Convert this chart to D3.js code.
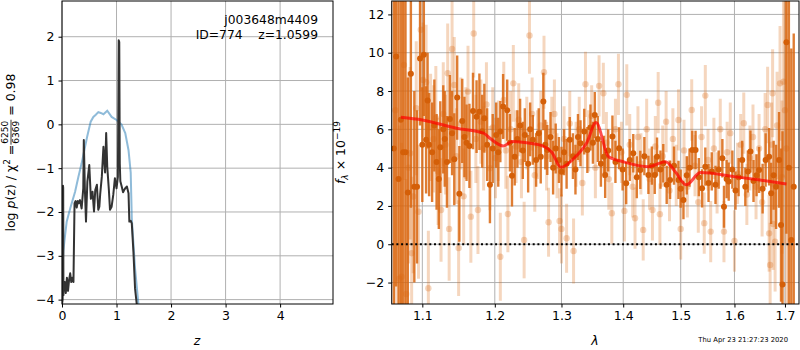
<!DOCTYPE html>
<html>
<head>
<meta charset="utf-8">
<script src="https://cdn.jsdelivr.net/npm/d3@7"></script>
<style>
body { margin: 0; background: #fff; }
text { font-family: "DejaVu Sans", sans-serif; }
</style>
</head>
<body>
<div id="chart"></div>
<script>
// p(z) panel
var pzZ = [0, 0.012, 0.018, 0.022, 0.026, 0.032, 0.05, 0.07, 0.09, 0.11, 0.13, 0.15, 0.17, 0.19, 0.21, 0.23, 0.25, 0.27, 0.29, 0.31, 0.33, 0.36, 0.39, 0.40, 0.42, 0.44, 0.465, 0.50, 0.53, 0.56, 0.587, 0.61, 0.64, 0.665, 0.685, 0.70, 0.73, 0.76, 0.79, 0.81, 0.83, 0.86, 0.88, 0.91, 0.94, 0.97, 1.0, 1.025, 1.04, 1.05, 1.06, 1.07, 1.095, 1.12, 1.14, 1.165, 1.19, 1.22, 1.235, 1.26, 1.28, 1.31, 1.34, 1.37, 1.4]
var pzLog = [-4.1, -4.0, -1.4, -1.45, -3.9, -3.7, -3.6, -3.85, -3.5, -3.8, -3.55, -3.4, -3.6, -3.5, -3.6, -1.8, -1.75, -1.9, -1.75, -1.8, -1.73, -1.92, -1.46, -0.36, -1.5, -2.22, -1.31, -0.93, -1.7, -1.54, -1.99, -1.5, -1.38, -1.95, -1.88, -1.6, -1.2, -0.51, -1.1, -0.2, -0.97, -1.5, -1.95, -1.88, -1.61, -1.23, -1.46, -1.2, 1.92, 1.88, -0.9, -1.3, -1.42, -1.55, -1.5, -1.45, -1.42, -1.57, -2.22, -2.2, -2.26, -2.91, -3.75, -4.09, -4.3]
var chiZ = [0, 0.01, 0.024, 0.05, 0.086, 0.15, 0.24, 0.30, 0.36, 0.46, 0.526, 0.575, 0.62, 0.666, 0.71, 0.76, 0.83, 0.91, 1.0, 1.09, 1.16, 1.22, 1.26, 1.28, 1.34, 1.4, 1.43]
var chiLog = [-3.9, -3.3, -2.9, -2.6, -2.22, -1.92, -1.54, -1.2, -0.89, -0.29, 0.06, 0.17, 0.22, 0.28, 0.26, 0.23, 0.31, 0.17, 0.1, 0.0, -0.2, -0.59, -1.1, -2.15, -3.29, -4.08, -4.5]
var zTicks = [0, 1, 2, 3, 4]
var logTicks = [-4, -3, -2, -1, 0, 1, 2]

// spectrum panel
var darkWave = [1.063, 1.066, 1.069, 1.072, 1.075, 1.078, 1.081, 1.085, 1.0895, 1.093, 1.097, 1.100, 1.102, 1.105, 1.107, 1.109, 1.113, 1.116, 1.119, 1.122, 1.124, 1.128, 1.130, 1.133, 1.137, 1.140, 1.143, 1.147, 1.150, 1.154, 1.157, 1.160, 1.164, 1.169, 1.174, 1.178, 1.182, 1.185, 1.189, 1.193, 1.197, 1.202, 1.205, 1.208, 1.212, 1.218, 1.222, 1.225, 1.229, 1.233, 1.237, 1.241, 1.244, 1.249, 1.252, 1.256, 1.261, 1.265, 1.268, 1.272, 1.275, 1.278, 1.283, 1.287, 1.291, 1.296, 1.300, 1.304, 1.308, 1.313, 1.318, 1.322, 1.326, 1.330, 1.336, 1.341, 1.346, 1.350, 1.353, 1.358, 1.363, 1.368, 1.370, 1.375, 1.382, 1.387, 1.393, 1.399, 1.405, 1.411, 1.417, 1.423, 1.429, 1.436, 1.443, 1.449, 1.454, 1.458, 1.464, 1.469, 1.475, 1.481, 1.488, 1.496, 1.500, 1.505, 1.511, 1.516, 1.521, 1.527, 1.533, 1.539, 1.545, 1.551, 1.557, 1.564, 1.570, 1.577, 1.580, 1.585, 1.589, 1.596, 1.602, 1.608, 1.615, 1.621, 1.626, 1.631, 1.637, 1.643, 1.648, 1.655, 1.661, 1.668, 1.672, 1.677, 1.682, 1.688, 1.692, 1.695, 1.703, 1.708, 1.713, 1.718]
var darkFlux = [5.0, 9.8, 3.4, 6.5, 4.8, 4.8, 2.7, 8.9, 3.0, 3.0, 9.7, 5.2, 9.9, 5.45, 7.5, 5.2, 4.8, 6.2, 4.3, 3.4, 5.07, 6.0, 5.5, 4.3, 6.54, 5.8, 4.44, 7.66, 2.63, 6.44, 5.6, 5.3, 5.13, 6.96, 6.66, 6.92, 5.9, 6.58, 5.2, 3.1, 5.0, 5.7, 4.8, 5.88, 7.19, 7.0, 5.3, 3.57, 4.57, 5.5, 6.2, 4.9, 5.7, 4.2, 6.0, 5.45, 4.4, 5.8, 4.57, 7.45, 5.2, 4.92, 5.6, 4.0, 5.0, 4.4, 3.79, 4.8, 4.2, 5.45, 4.6, 3.9, 5.6, 5.27, 5.88, 4.92, 6.1, 5.3, 6.75, 5.5, 4.2, 4.57, 3.62, 4.9, 5.62, 4.3, 5.01, 3.9, 3.19, 4.4, 4.75, 3.5, 3.88, 4.6, 3.62, 4.1, 3.62, 4.57, 3.9, 4.23, 3.1, 3.36, 4.1, 3.36, 2.9, 2.31, 3.6, 4.0, 4.92, 4.92, 3.5, 2.92, 4.05, 3.2, 3.8, 3.1, 3.9, 4.49, 1.96, 3.4, 3.27, 3.9, 2.8, 3.5, 4.4, 3.0, 3.8, 4.84, 3.3, 3.6, 3.88, 2.9, 4.4, 4.57, 2.66, 3.6, 3.0, 4.4, 1.0, -2.1, 10.55, 4.0, 0.22, 3.0]
var darkErr = [15, 12, 10, 11, 9, 8, 6, 7, 5, 4, 3.5, 3, 3.2, 2.8, 2.5, 2.7, 2.6, 2.4, 2.5, 2.6, 2.4, 2.3, 2.5, 2.4, 2.3, 2.2, 2.4, 2.2, 2.5, 2.2, 2.1, 2.0, 2.2, 2.0, 1.9, 2.0, 1.9, 1.8, 1.9, 2.0, 1.8, 1.7, 1.8, 1.6, 1.7, 1.6, 1.5, 1.6, 1.5, 1.5, 1.4, 1.5, 1.4, 1.5, 1.4, 1.3, 1.4, 1.3, 1.4, 1.5, 1.3, 1.3, 1.3, 1.4, 1.3, 1.2, 1.3, 1.2, 1.3, 1.2, 1.2, 1.3, 1.2, 1.2, 1.2, 1.2, 1.2, 1.1, 1.2, 1.2, 1.2, 1.1, 1.2, 1.1, 1.1, 1.1, 1.1, 1.1, 1.1, 1.1, 1.0, 1.1, 1.0, 1.0, 1.0, 1.0, 1.0, 1.0, 1.0, 1.0, 1.0, 1.0, 1.0, 1.0, 1.0, 1.0, 1.0, 1.0, 1.0, 1.0, 1.0, 1.0, 1.0, 1.0, 1.0, 1.0, 1.0, 1.0, 1.1, 1.0, 1.0, 1.0, 1.0, 1.0, 1.0, 1.0, 1.1, 1.1, 1.1, 1.1, 1.2, 1.3, 1.4, 1.5, 1.6, 1.8, 2.2, 2.5, 4, 8, 10, 9, 10, 8]

var lightWave = [1.065, 1.070, 1.073, 1.076, 1.079, 1.082, 1.084, 1.086, 1.088, 1.092, 1.095, 1.098, 1.101, 1.105, 1.108, 1.111, 1.115, 1.118, 1.121, 1.125, 1.128, 1.131, 1.134, 1.136, 1.140, 1.143, 1.146, 1.149, 1.152, 1.156, 1.159, 1.162, 1.166, 1.170, 1.173, 1.176, 1.180, 1.184, 1.188, 1.193, 1.197, 1.201, 1.205, 1.208, 1.213, 1.216, 1.219, 1.223, 1.227, 1.231, 1.235, 1.239, 1.243, 1.247, 1.251, 1.255, 1.259, 1.263, 1.268, 1.273, 1.277, 1.280, 1.285, 1.289, 1.293, 1.297, 1.300, 1.304, 1.308, 1.313, 1.319, 1.323, 1.328, 1.333, 1.338, 1.343, 1.348, 1.354, 1.360, 1.367, 1.372, 1.376, 1.381, 1.387, 1.392, 1.397, 1.402, 1.406, 1.411, 1.416, 1.420, 1.425, 1.430, 1.434, 1.440, 1.445, 1.450, 1.455, 1.460, 1.463, 1.468, 1.474, 1.480, 1.486, 1.492, 1.496, 1.500, 1.506, 1.512, 1.520, 1.526, 1.532, 1.538, 1.543, 1.545, 1.550, 1.555, 1.561, 1.567, 1.573, 1.580, 1.586, 1.592, 1.600, 1.606, 1.612, 1.618, 1.624, 1.630, 1.636, 1.642, 1.648, 1.654, 1.660, 1.665, 1.668, 1.670, 1.673, 1.675, 1.676, 1.680, 1.684, 1.690, 1.694, 1.697, 1.700, 1.703]
var lightFlux = [7.0, -1.8, -1.7, 9.36, -2.6, 4.0, 4.75, -0.47, 2.49, 7.1, 1.7, 11.2, 8.58, 8.46, -2.3, 6.1, 5.5, 6.6, 3.8, 1.79, 6.8, 5.2, 8.93, 0.8, 10.2, 8.32, 4.6, -0.2, 6.3, 2.5, 5.8, 7.97, 1.44, 11.0, 5.5, 1.79, 6.4, 5.0, 7.3, 3.97, 6.1, 4.5, 5.4, -0.65, 7.53, 4.9, 1.58, 6.0, 8.4, 5.1, 6.5, 4.3, 0.22, 5.8, 10.9, 6.8, 3.6, 5.2, 6.2, 8.98, 4.6, 1.15, 5.9, 6.8, 4.1, 1.22, 0.8, 5.5, 0.31, 6.3, -0.35, 4.7, 6.0, 3.2, 8.35, 5.4, 6.7, 4.0, 8.27, 7.88, 5.3, 3.4, 1.62, 6.0, 8.35, 4.8, 1.74, 7.8, 5.2, 3.0, 1.36, 5.6, 4.2, 0.75, 6.0, 3.4, 1.79, 5.1, 7.39, 1.57, 4.6, 6.4, 2.8, 5.5, 3.6, 6.49, 0.8, 4.9, 3.0, 7.01, 4.1, 2.2, 5.6, 1.1, 7.76, 4.4, 0.66, 5.0, 3.2, 6.0, 0.66, 4.8, 5.8, 0.17, 3.7, 5.2, 6.32, 2.6, 4.5, 5.6, 3.0, 5.0, 2.2, 6.0, 7.27, 0.57, -1.08, 5.2, 7.88, 1.06, 0.13, 6.2, 8.4, 3.5, 8.49, 7.0, 5.0]
var lightErr = [14, 8, 7, 6, 6, 5, 4.5, 4, 4, 3.5, 3.5, 3.2, 3, 3, 3, 2.8, 2.8, 2.7, 2.8, 2.7, 2.7, 2.6, 2.6, 2.7, 2.5, 2.5, 2.5, 2.5, 2.4, 2.5, 2.4, 2.4, 2.4, 2.3, 2.3, 2.3, 2.2, 2.2, 2.2, 2.2, 2.1, 2.1, 2.1, 2.3, 2.0, 2.0, 2.0, 2.0, 2.0, 1.9, 1.9, 1.9, 2.0, 1.9, 2.0, 1.9, 1.9, 1.8, 1.8, 1.9, 1.8, 1.8, 1.8, 1.8, 1.7, 1.7, 1.8, 1.7, 1.8, 1.7, 1.7, 1.7, 1.7, 1.7, 1.7, 1.6, 1.6, 1.6, 1.6, 1.6, 1.6, 1.6, 1.6, 1.6, 1.6, 1.6, 1.6, 1.6, 1.6, 1.6, 1.6, 1.6, 1.6, 1.6, 1.6, 1.6, 1.6, 1.6, 1.6, 1.6, 1.6, 1.6, 1.6, 1.6, 1.6, 1.6, 1.6, 1.6, 1.6, 1.6, 1.6, 1.6, 1.6, 1.6, 1.6, 1.6, 1.6, 1.6, 1.6, 1.6, 1.6, 1.6, 1.6, 1.6, 1.6, 1.6, 1.6, 1.6, 1.7, 1.7, 1.7, 1.8, 1.8, 1.9, 2.0, 2.0, 2.2, 2.2, 2.3, 2.4, 2.6, 2.8, 3, 4, 5, 7, 9]

var modelWave = [1.072, 1.10, 1.146, 1.184, 1.193, 1.2125, 1.2255, 1.252, 1.27, 1.285, 1.299, 1.32, 1.34, 1.355, 1.3756, 1.40, 1.443, 1.473, 1.49, 1.510, 1.536, 1.599, 1.65, 1.703]
var modelFlux = [6.63, 6.49, 6.06, 5.80, 5.53, 5.13, 5.36, 5.27, 5.15, 4.8, 4.02, 4.5, 5.3, 6.35, 4.57, 4.31, 4.05, 4.31, 3.8, 3.1, 3.74, 3.53, 3.35, 3.15]
var waveTicks = [1.1, 1.2, 1.3, 1.4, 1.5, 1.6, 1.7]
var fluxTicks = [-2, 0, 2, 4, 6, 8, 10, 12]

var w = 800, h = 350
var svg = d3.select("#chart").append("svg").attr("width", w).attr("height", h)

var yTop = 1, yBot = 304
var xL = d3.scaleLinear().domain([0, 4.97]).range([62, 333])
var yL = d3.scaleLinear().domain([-4.1, 2.815]).range([yBot, yTop])
var xR = d3.scaleLog().domain([1.0603, 1.7289]).range([391.7, 799])
var yR = d3.scaleLinear().domain([-3.12, 12.7]).range([yBot, yTop])

var orange = "#d9660f"
var gridCol = "#b0b0b0"

function panel(x, y, xt, yt, id) {
	var g = svg.append("g")
	var x0 = x.range()[0], x1 = x.range()[1]
	g.selectAll(".gx").data(xt).enter().append("line")
		.attr("x1", function(d) {return x(d)}).attr("x2", function(d) {return x(d)})
		.attr("y1", yTop).attr("y2", yBot)
		.style("stroke", gridCol).style("stroke-width", 1)
	g.selectAll(".gy").data(yt).enter().append("line")
		.attr("x1", x0).attr("x2", x1)
		.attr("y1", function(d) {return y(d)}).attr("y2", function(d) {return y(d)})
		.style("stroke", gridCol).style("stroke-width", 1)
	svg.append("clipPath").attr("id", id).append("rect")
		.attr("x", x0).attr("y", yTop).attr("width", x1 - x0).attr("height", yBot - yTop)
	return svg.append("g").attr("clip-path", "url(#" + id + ")")
}

function axes(x, y, xt, yt, xfmt, yfmt) {
	var x0 = x.range()[0], x1 = x.range()[1]
	var xa = svg.append("g").attr("transform", "translate(0," + yBot + ")")
		.call(d3.axisBottom(x).tickValues(xt).tickFormat(xfmt).tickSize(3.5).tickPadding(3.5))
	var ya = svg.append("g").attr("transform", "translate(" + x0 + ",0)")
		.call(d3.axisLeft(y).tickValues(yt).tickFormat(yfmt).tickSize(3.5).tickPadding(4))
	;[xa, ya].forEach(function(a) {
		a.select(".domain").remove()
		a.selectAll("text").style("font-size", "12.5px").style("font-family", "DejaVu Sans").attr("fill", "#000")
		a.selectAll("line").attr("stroke", "#000")
	})
	svg.append("rect").attr("x", x0).attr("y", yTop).attr("width", x1 - x0).attr("height", yBot - yTop)
		.style("fill", "none").style("stroke", "#000").style("stroke-width", 1)
}

var minus = function(d) {return String(d).replace("-", "\u2212")}

// left panel
var gl = panel(xL, yL, zTicks, logTicks, "clipL")
var lineL = d3.line().x(function(d) {return xL(d[0])}).y(function(d) {return yL(d[1])})
gl.append("path").attr("d", lineL(d3.zip(chiZ, chiLog)))
	.style("fill", "none").style("stroke", "#1f77b4").style("stroke-opacity", 0.5).style("stroke-width", 2)
gl.append("path").attr("d", lineL(d3.zip(pzZ, pzLog)))
	.style("fill", "none").style("stroke", "#333").style("stroke-width", 2).style("stroke-linejoin", "round")
axes(xL, yL, zTicks, logTicks, d3.format("d"), minus)

svg.append("text").attr("x", 318).attr("y", 24).attr("text-anchor", "end")
	.style("font-size", "12.3px").text("j003648m4409")
svg.append("text").attr("x", 318).attr("y", 39).attr("text-anchor", "end")
	.style("font-size", "12.3px").style("white-space", "pre").text("ID=774    z=1.0599")

// right panel
var gr = panel(xR, yR, waveTicks, fluxTicks, "clipR")
var light = d3.zip(lightWave, lightFlux, lightErr)
var dark = d3.zip(darkWave, darkFlux, darkErr)

gr.selectAll(".lbar").data(light).enter().append("line")
	.attr("x1", function(d) {return xR(d[0])}).attr("x2", function(d) {return xR(d[0])})
	.attr("y1", function(d) {return yR(d[1] - d[2])}).attr("y2", function(d) {return yR(d[1] + d[2])})
	.style("stroke", orange).style("stroke-opacity", 0.27).style("stroke-width", 3)
gr.selectAll(".ldot").data(light).enter().append("circle")
	.attr("cx", function(d) {return xR(d[0])}).attr("cy", function(d) {return yR(d[1])})
	.attr("r", 3.2).style("fill", orange).style("fill-opacity", 0.28)

gr.selectAll(".dbar").data(dark).enter().append("line")
	.attr("x1", function(d) {return xR(d[0])}).attr("x2", function(d) {return xR(d[0])})
	.attr("y1", function(d) {return yR(d[1] - d[2])}).attr("y2", function(d) {return yR(d[1] + d[2])})
	.style("stroke", orange).style("stroke-opacity", 0.85).style("stroke-width", 2.4)
gr.selectAll(".ddot").data(dark).enter().append("circle")
	.attr("cx", function(d) {return xR(d[0])}).attr("cy", function(d) {return yR(d[1])})
	.attr("r", 3).style("fill", "#d45f08")

gr.append("line").attr("x1", xR.range()[0]).attr("x2", xR.range()[1])
	.attr("y1", yR(0)).attr("y2", yR(0))
	.style("stroke", "#000").style("stroke-width", 2).style("stroke-dasharray", "2,2.7")

var lineR = d3.line().curve(d3.curveMonotoneX).x(function(d) {return xR(d[0])}).y(function(d) {return yR(d[1])})
gr.append("path").attr("d", lineR(d3.zip(modelWave, modelFlux)))
	.style("fill", "none").style("stroke", "red").style("stroke-opacity", 0.7).style("stroke-width", 3)

axes(xR, yR, waveTicks, fluxTicks, d3.format(".1f"), minus)

// axis labels
svg.append("text").attr("x", 197).attr("y", 345).attr("text-anchor", "middle")
	.style("font-size", "12.5px").style("font-style", "italic").text("z")
svg.append("text").attr("x", 595).attr("y", 345).attr("text-anchor", "middle")
	.style("font-size", "12.5px").style("font-style", "italic").text("λ")

var yl = svg.append("g").attr("transform", "translate(15,152.5) rotate(-90)")
var t1 = yl.append("text").style("font-size", "12.5px")
t1.append("tspan").text("log ")
t1.append("tspan").style("font-style", "italic").text("p")
t1.append("tspan").text("(z) / χ")
t1.append("tspan").attr("dy", -5).style("font-size", "9px").text("2")
t1.append("tspan").attr("dy", 5).text(" = ")
var len1 = t1.node().getComputedTextLength()
var num = yl.append("text").attr("y", -7).attr("text-anchor", "middle").style("font-size", "9px").text("6250")
var den = yl.append("text").attr("y", 4).attr("text-anchor", "middle").style("font-size", "9px").text("6369")
var fw = Math.max(num.node().getComputedTextLength(), den.node().getComputedTextLength()) + 2
num.attr("x", len1 + fw / 2)
den.attr("x", len1 + fw / 2)
yl.append("line").attr("x1", len1).attr("x2", len1 + fw).attr("y1", -4).attr("y2", -4)
	.style("stroke", "#000").style("stroke-width", 0.8)
var t2 = yl.append("text").attr("x", len1 + fw).style("font-size", "12.5px").style("white-space", "pre").text(" = 0.98")
var total = len1 + fw + t2.node().getComputedTextLength()
yl.selectAll("text, line").attr("transform", "translate(" + (-total / 2) + ",0)")

var yr = svg.append("text").attr("transform", "translate(345,152.5) rotate(-90)")
	.attr("text-anchor", "middle").style("font-size", "12.5px")
yr.append("tspan").style("font-style", "italic").text("f")
yr.append("tspan").attr("dy", 3).style("font-size", "9px").style("font-style", "italic").text("λ")
yr.append("tspan").attr("dy", -3).text(" × 10")
yr.append("tspan").attr("dy", -5).style("font-size", "9px").text("−19")

svg.append("text").attr("x", 788).attr("y", 342).attr("text-anchor", "end")
	.style("font-size", "6.8px").text("Thu Apr 23 21:27:23 2020")
</script>
</body>
</html>
